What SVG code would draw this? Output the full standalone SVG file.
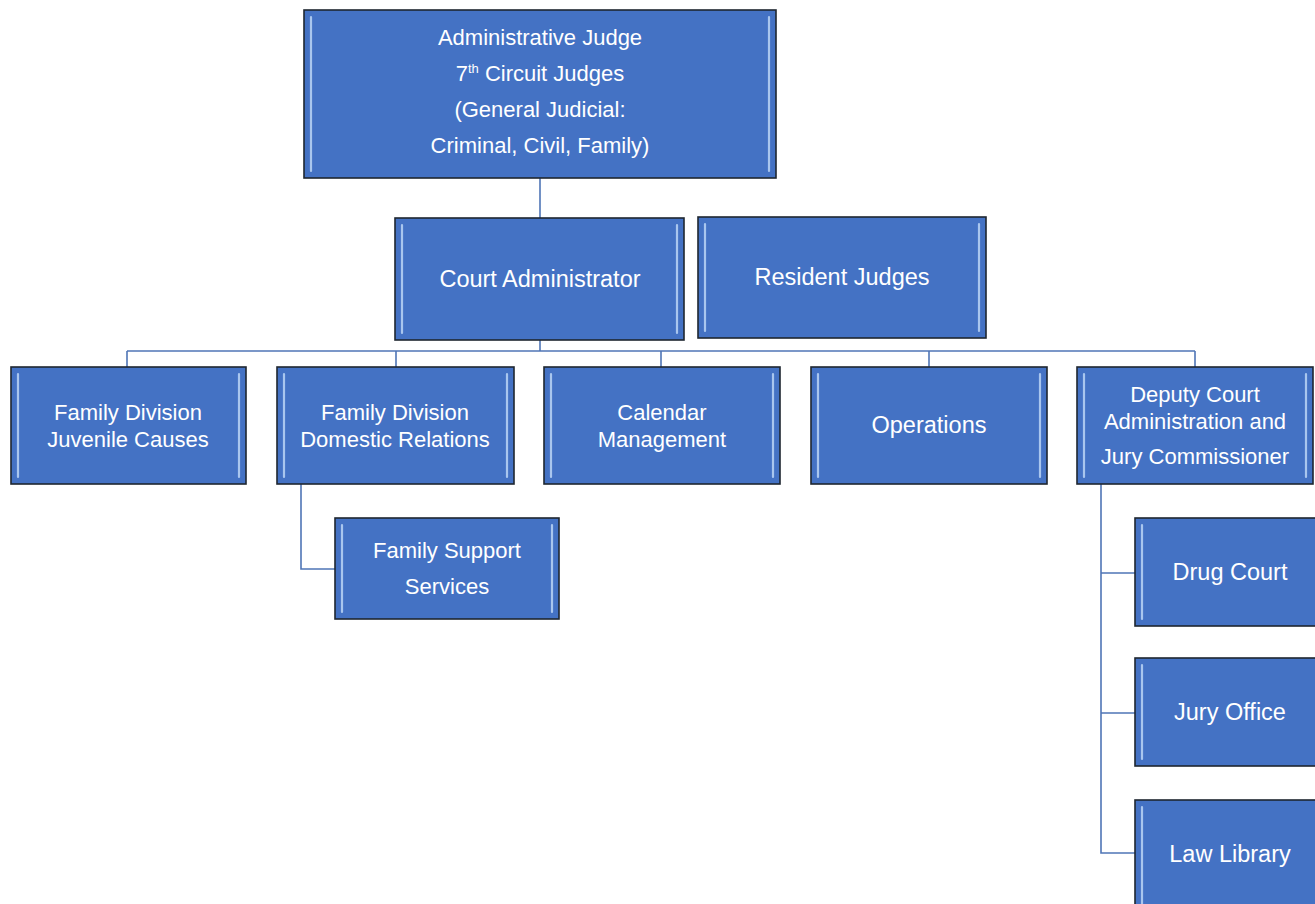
<svg xmlns="http://www.w3.org/2000/svg" width="1315" height="904" viewBox="0 0 1315 904">
<defs>
<style>
.box{fill:#4472C4;stroke:#1f2630;stroke-width:1.6}
.bev{fill:none;stroke:#a9c6ee;stroke-width:2.2;stroke-linecap:round}
.t{font-family:"Liberation Sans",Arial,sans-serif;font-size:22px;fill:#ffffff;text-anchor:middle}
.tl{font-size:23.5px}
.c{fill:none;stroke:#4f75b6;stroke-width:1.6}
</style>
</defs>
<rect width="1315" height="904" fill="#ffffff"/>
<g id="connectors">
<path class="c" d="M540 178 V218"/>
<path class="c" d="M540 340 V351"/>
<path class="c" d="M127 351 H1195"/>
<path class="c" d="M127 351 V367 M396 351 V367 M661 351 V367 M929 351 V367 M1195 351 V367"/>
<path class="c" d="M301 484 V569 H335"/>
<path class="c" d="M1101 484 V853 H1135 M1101 573 H1135 M1101 713 H1135"/>
</g>
<g id="admin-judge">
<rect class="box" x="304" y="10" width="472" height="168"/>
<path class="bev" d="M311 17 V171 M769 17 V171"/>
<text class="t" x="540" y="45">Administrative Judge</text>
<text class="t" x="540" y="81">7<tspan font-size="13" dy="-8">th</tspan><tspan dy="8"> Circuit Judges</tspan></text>
<text class="t" x="540" y="117">(General Judicial:</text>
<text class="t" x="540" y="153">Criminal, Civil, Family)</text>
</g>
<g id="court-admin">
<rect class="box" x="395" y="218" width="289" height="122"/>
<path class="bev" d="M402 225 V333 M677 225 V333"/>
<text class="t tl" x="540" y="287">Court Administrator</text>
</g>
<g id="resident-judges">
<rect class="box" x="698" y="217" width="288" height="121"/>
<path class="bev" d="M705 224 V331 M979 224 V331"/>
<text class="t tl" x="842" y="285">Resident Judges</text>
</g>
<g id="juvenile">
<rect class="box" x="11" y="367" width="235" height="117"/>
<path class="bev" d="M18 374 V477 M239 374 V477"/>
<text class="t" x="128" y="420">Family Division</text>
<text class="t" x="128" y="447">Juvenile Causes</text>
</g>
<g id="domestic">
<rect class="box" x="277" y="367" width="237" height="117"/>
<path class="bev" d="M284 374 V477 M507 374 V477"/>
<text class="t" x="395" y="420">Family Division</text>
<text class="t" x="395" y="447">Domestic Relations</text>
</g>
<g id="calendar">
<rect class="box" x="544" y="367" width="236" height="117"/>
<path class="bev" d="M551 374 V477 M773 374 V477"/>
<text class="t" x="662" y="420">Calendar</text>
<text class="t" x="662" y="447">Management</text>
</g>
<g id="operations">
<rect class="box" x="811" y="367" width="236" height="117"/>
<path class="bev" d="M818 374 V477 M1040 374 V477"/>
<text class="t tl" x="929" y="433">Operations</text>
</g>
<g id="deputy">
<rect class="box" x="1077" y="367" width="236" height="117"/>
<path class="bev" d="M1084 374 V477 M1306 374 V477"/>
<text class="t" x="1195" y="402">Deputy Court</text>
<text class="t" x="1195" y="429">Administration and</text>
<text class="t" x="1195" y="464">Jury Commissioner</text>
</g>
<g id="family-support">
<rect class="box" x="335" y="518" width="224" height="101"/>
<path class="bev" d="M342 525 V612 M552 525 V612"/>
<text class="t" x="447" y="558">Family Support</text>
<text class="t" x="447" y="594">Services</text>
</g>
<g id="drug-court">
<rect class="box" x="1135" y="518" width="190" height="108"/>
<path class="bev" d="M1142 525 V619"/>
<text class="t tl" x="1230" y="580">Drug Court</text>
</g>
<g id="jury-office">
<rect class="box" x="1135" y="658" width="190" height="108"/>
<path class="bev" d="M1142 665 V759"/>
<text class="t tl" x="1230" y="720">Jury Office</text>
</g>
<g id="law-library">
<rect class="box" x="1135" y="800" width="190" height="115"/>
<path class="bev" d="M1142 807 V910"/>
<text class="t tl" x="1230" y="862">Law Library</text>
</g>
</svg>
